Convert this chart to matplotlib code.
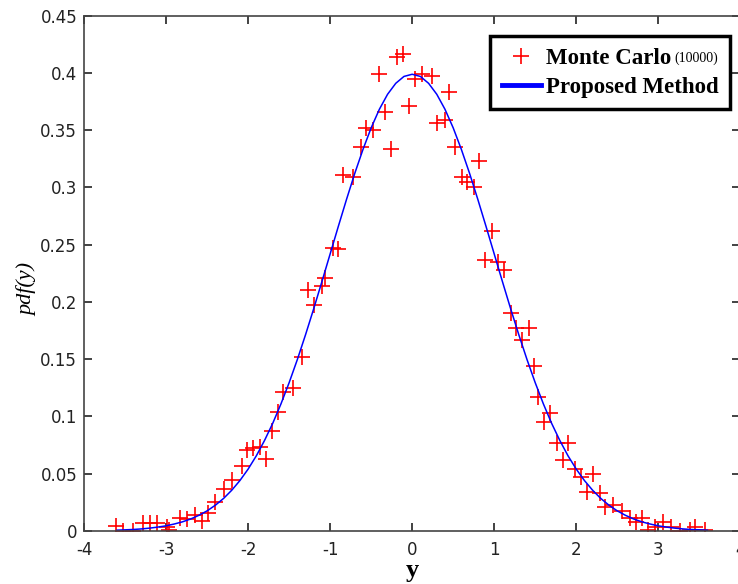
import numpy as np
from matplotlib import pyplot as plt
from matplotlib.lines import Line2D

# Monte Carlo histogram points
mc_y = [-3.61, -3.52, -3.40, -3.28, -3.20, -3.11, -2.99, -2.96, -2.83, -2.74,
        -2.65, -2.56, -2.49, -2.40, -2.30, -2.20, -2.07, -2.01, -1.94, -1.85,
        -1.78, -1.71, -1.63, -1.57, -1.45, -1.34, -1.27, -1.20, -1.10, -1.06,
        -0.96, -0.91, -0.84, -0.72, -0.62, -0.56, -0.48, -0.41, -0.33, -0.26,
        -0.18, -0.11, -0.04, 0.04, 0.12, 0.24, 0.30, 0.40, 0.45, 0.52,
        0.61, 0.67, 0.75, 0.82, 0.89, 0.97, 1.05, 1.12, 1.20, 1.27,
        1.34, 1.42, 1.49, 1.54, 1.61, 1.68, 1.77, 1.84, 1.90, 1.99,
        2.06, 2.13, 2.21, 2.29, 2.35, 2.45, 2.56, 2.66, 2.73, 2.80,
        2.88, 2.96, 3.06, 3.15, 3.27, 3.39, 3.45, 3.57]
mc_pdf = [0.004, 0.000, 0.000, 0.007, 0.007, 0.007, 0.003, 0.001, 0.011, 0.010,
          0.014, 0.009, 0.016, 0.025, 0.037, 0.044, 0.057, 0.071, 0.072, 0.073,
          0.063, 0.087, 0.104, 0.121, 0.125, 0.152, 0.210, 0.197, 0.214, 0.221,
          0.247, 0.246, 0.311, 0.309, 0.335, 0.352, 0.350, 0.399, 0.366, 0.334,
          0.414, 0.417, 0.371, 0.395, 0.399, 0.397, 0.356, 0.359, 0.383, 0.335,
          0.309, 0.305, 0.300, 0.323, 0.237, 0.262, 0.235, 0.228, 0.190, 0.177,
          0.167, 0.177, 0.144, 0.117, 0.095, 0.103, 0.077, 0.062, 0.077, 0.054,
          0.047, 0.034, 0.050, 0.033, 0.021, 0.023, 0.017, 0.011, 0.008, 0.011,
          0.001, 0.003, 0.008, 0.003, 0.000, 0.001, 0.003, 0.001]

# proposed method curve, half read from 0 to 3.6 in steps of 0.1 (it is symmetric)
half_pdf = [0.3989, 0.3970, 0.3910, 0.3814, 0.3683, 0.3521, 0.3332, 0.3123, 0.2897, 0.2661,
            0.2420, 0.2179, 0.1942, 0.1714, 0.1497, 0.1295, 0.1109, 0.0940, 0.0790, 0.0656,
            0.0540, 0.0440, 0.0355, 0.0283, 0.0224, 0.0175, 0.0136, 0.0104, 0.0079, 0.0060,
            0.0044, 0.0033, 0.0024, 0.0017, 0.0012, 0.0009, 0.0006]
curve_y = np.round(np.arange(-36, 37) * 0.1, 1)
curve_pdf = half_pdf[:0:-1] + half_pdf

x_ticks = [-4, -3, -2, -1, 0, 1, 2, 3, 4]
y_ticks = [0, 0.05, 0.1, 0.15, 0.2, 0.25, 0.3, 0.35, 0.4, 0.45]
y_tick_labels = ["0", "0.05", "0.1", "0.15", "0.2", "0.25", "0.3", "0.35", "0.4", "0.45"]

plt.rcParams['font.family'] = 'DejaVu Sans'

fig = plt.figure(figsize=(7.38, 5.84), dpi=100)
ax = fig.add_axes([0.114, 0.091, 0.889, 0.882])

ax.plot(mc_y, mc_pdf, '+', color='red', markersize=11, markeredgewidth=1.2)
ax.plot(curve_y, curve_pdf, '-', color='blue', linewidth=1.1)

ax.set_xlim(-4, 4)
ax.set_ylim(0, 0.45)
ax.set_xticks(x_ticks)
ax.set_xticklabels([str(t) for t in x_ticks])
ax.set_yticks(y_ticks)
ax.set_yticklabels(y_tick_labels)
ax.tick_params(direction='in', length=6, width=1.2, labelsize=12,
               top=True, right=True, colors='#222222', pad=5)
ax.tick_params(axis='x', pad=7)
for s in ax.spines.values():
    s.set_linewidth(1.2)
    s.set_color('#444444')

ax.set_xlabel('y', family='Liberation Serif', fontweight='bold', fontsize=19)
ax.xaxis.set_label_coords(0.5, -0.055)
ax.set_ylabel('pdf(y)', family='Liberation Serif', style='italic', fontsize=16)
ax.yaxis.set_label_coords(-0.072, 0.468)

handles = [Line2D([], [], linestyle='none', marker='+', color='red', markersize=11, markeredgewidth=1.2),
           Line2D([], [], color='blue', linewidth=3.5)]
leg = ax.legend(handles, ['Monte Carlo', 'Proposed Method'],
                loc='upper right', bbox_to_anchor=(0.985, 0.96), fancybox=False,
                framealpha=1, borderpad=0.5, handlelength=1.7, handletextpad=0.25,
                labelspacing=0.35, borderaxespad=0,
                prop={'family': 'Liberation Serif', 'weight': 'bold', 'size': 16.5})
leg.get_frame().set_edgecolor('black')
leg.get_frame().set_linewidth(2.5)
ax.annotate('(10000)', xy=(1, 0), xycoords=leg.get_texts()[0], xytext=(2, 3),
            textcoords='offset points', family='Liberation Serif', fontsize=10,
            ha='left', va='bottom', zorder=10)

fig.savefig('out.png', dpi=100)
